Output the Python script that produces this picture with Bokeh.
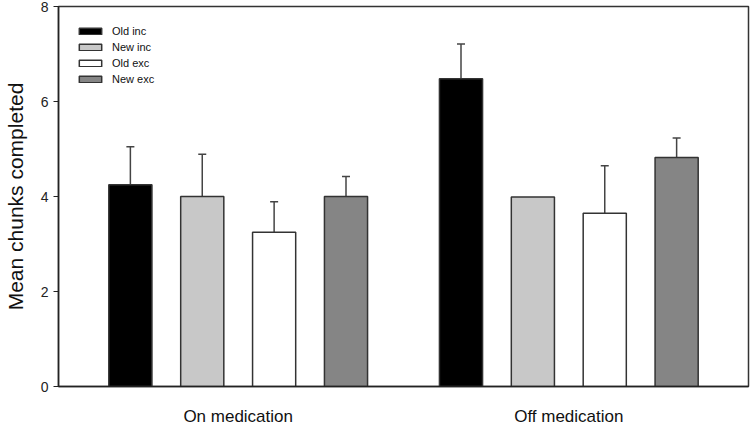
from bokeh.plotting import figure
from bokeh.models import (ColumnDataSource, Range1d, FixedTicker, Legend, LegendItem,
                          Whisker, TeeHead)
from bokeh.embed import file_html
from bokeh.resources import INLINE

# ---- data ----
groups = ["On medication", "Off medication"]
series = ["Old inc", "New inc", "Old exc", "New exc"]
colors = ["#000000", "#c8c8c8", "#ffffff", "#858585"]
old_inc = [4.25, 6.48]
new_inc = [4.00, 3.99]
old_exc = [3.25, 3.65]
new_exc = [4.00, 4.82]
old_inc_err = [0.80, 0.73]
new_inc_err = [0.89, 0.0]
old_exc_err = [0.64, 1.00]
new_exc_err = [0.42, 0.41]
y_ticks = [0, 2, 4, 6, 8]

means = [old_inc, new_inc, old_exc, new_exc]
errs = [old_inc_err, new_inc_err, old_exc_err, new_exc_err]

FONT = "Liberation Sans"
GROUP_STEP = 4.6

p = figure(width=750, height=428, output_backend="svg", toolbar_location=None,
           x_range=Range1d(0, 9.6), y_range=Range1d(0, 8),
           min_border_left=57, min_border_right=2, min_border_top=6,
           min_border_bottom=42)
p.xgrid.visible = False
p.ygrid.visible = False
p.outline_line_color = "#333333"
p.outline_line_width = 1.5
p.background_fill_color = "white"

items = []
for s, name in enumerate(series):
    xs = [1 + g * GROUP_STEP + s for g in range(len(groups))]
    src = ColumnDataSource(dict(x=xs, top=means[s]))
    r = p.vbar(x="x", top="top", width=0.6, bottom=0, source=src,
               fill_color=colors[s], line_color="#333333", line_width=1.5)
    items.append(LegendItem(label=name, renderers=[r]))
    ex, lo, up = [], [], []
    for g in range(len(groups)):
        if errs[s][g] > 0:
            ex.append(xs[g]); lo.append(means[s][g]); up.append(means[s][g] + errs[s][g])
    wsrc = ColumnDataSource(dict(x=ex, lower=lo, upper=up))
    w = Whisker(base="x", lower="lower", upper="upper", source=wsrc,
                line_color="#444444", line_width=1.5,
                upper_head=TeeHead(size=8, line_color="#444444", line_width=1.5),
                lower_head=None)
    p.add_layout(w)

legend = Legend(items=items, location=(14, 297), orientation="vertical",
                label_text_font=FONT, label_text_font_size="11px",
                label_text_color="#111111",
                glyph_width=28, glyph_height=8, label_height=12,
                spacing=4, padding=4, margin=0,
                border_line_alpha=0, background_fill_alpha=0,
                label_standoff=8)
p.add_layout(legend, "center")

# y axis
p.yaxis.ticker = FixedTicker(ticks=y_ticks)
p.yaxis.minor_tick_line_color = None
p.yaxis.major_tick_in = 0
p.yaxis.major_tick_out = 5
p.yaxis.major_tick_line_color = "#222222"
p.yaxis.axis_line_color = "#222222"
p.yaxis.axis_line_width = 1.5
p.yaxis.major_label_text_font = FONT
p.yaxis.major_label_text_font_size = "14px"
p.yaxis.major_label_text_color = "#222222"
p.yaxis.major_label_standoff = 5
p.yaxis.axis_label = "Mean chunks completed"
p.yaxis.axis_label_text_font = FONT
p.yaxis.axis_label_text_font_size = "21px"
p.yaxis.axis_label_text_font_style = "normal"
p.yaxis.axis_label_text_color = "#111111"
p.yaxis.axis_label_standoff = 11

# x axis: group names at group centres, no ticks
centers = [1 + g * GROUP_STEP + (len(series) - 1) / 2 for g in range(len(groups))]
p.xaxis.ticker = FixedTicker(ticks=centers)
p.xaxis.major_label_overrides = {c: g for c, g in zip(centers, groups)}
p.xaxis.minor_tick_line_color = None
p.xaxis.major_tick_line_color = None
p.xaxis.major_tick_in = 0
p.xaxis.major_tick_out = 0
p.xaxis.axis_line_color = "#222222"
p.xaxis.axis_line_width = 1.5
p.xaxis.major_label_text_font = FONT
p.xaxis.major_label_text_font_size = "17px"
p.xaxis.major_label_text_color = "#111111"
p.xaxis.major_label_standoff = 20

open("out.html", "w").write(file_html(p, INLINE))
